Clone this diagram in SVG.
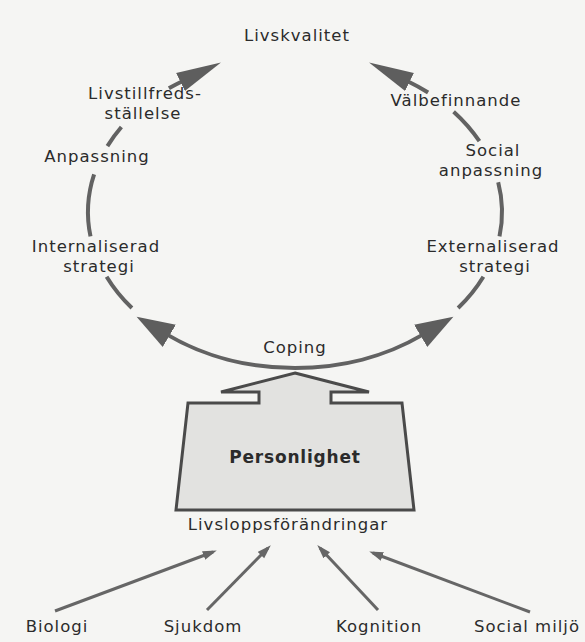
<svg xmlns="http://www.w3.org/2000/svg" width="585" height="642" viewBox="0 0 585 642">
  <style>
    .lbl { font-family: "DejaVu Sans", "Liberation Sans", sans-serif; font-size: 16.5px; letter-spacing: 1px; fill: #2b2b2b; text-anchor: middle; }
    .bold { font-weight: bold; font-size: 17px; letter-spacing: 0.8px; }
    .ring { fill: none; stroke: #626262; stroke-width: 4; }
    .thin { fill: none; stroke: #666; stroke-width: 3; }
    .box { fill: #e2e2e0; stroke: #4a4a4a; stroke-width: 3; stroke-linejoin: miter; }
  </style>
  <defs>
    <marker id="headTop" markerUnits="userSpaceOnUse" markerWidth="46" markerHeight="24" refX="2" refY="12" orient="auto">
      <path d="M0,2 L45,12 L0,22 Z" fill="#5e5e5e"/>
    </marker>
    <marker id="headBot" markerUnits="userSpaceOnUse" markerWidth="40" markerHeight="30" refX="2" refY="15" orient="auto">
      <path d="M0,2 L38,15 L0,28 Z" fill="#5e5e5e"/>
    </marker>
    <marker id="small" markerUnits="userSpaceOnUse" markerWidth="14" markerHeight="10" refX="10" refY="5" orient="auto">
      <path d="M0,0.5 L14,5 L0,9.5 Z" fill="#666"/>
    </marker>
  </defs>
  <rect x="0" y="0" width="585" height="642" fill="#f5f5f3"/>

  <g id="connectors">
    <path class="ring" d="M168.9,88.3 A207 156 0 0 1 182.3,81.2" marker-end="url(#headTop)"/>
    <path class="ring" d="M107.4,146.1 A207 156 0 0 1 121.4,127.0"/>
    <path class="ring" d="M90.5,236.4 A207 156 0 0 1 94.1,174.3"/>
    <path class="ring" d="M131.9,308.0 A207 156 0 0 1 106.6,276.7"/>
    <path class="ring" d="M295,368 A207 156 0 0 1 167.6,334.9" marker-end="url(#headBot)"/>
    <path class="ring" d="M295,368 A207 156 0 0 0 422.4,334.9" marker-end="url(#headBot)"/>
    <path class="ring" d="M458.1,308.0 A207 156 0 0 0 483.4,276.7"/>
    <path class="ring" d="M499.5,236.4 A207 156 0 0 0 498.2,182.2"/>
    <path class="ring" d="M479.4,141.2 A207 156 0 0 0 453.6,111.7"/>
    <path class="ring" d="M428.1,92.5 A207 156 0 0 0 407.7,81.2" marker-end="url(#headTop)"/>
    <path class="thin" d="M55,611 L213,552" marker-end="url(#small)"/>
    <path class="thin" d="M207,610 L268,548" marker-end="url(#small)"/>
    <path class="thin" d="M378,610 L320,548" marker-end="url(#small)"/>
    <path class="thin" d="M530,612 L373,553" marker-end="url(#small)"/>
  </g>

  <g id="livskvalitet"><text class="lbl" x="297" y="41">Livskvalitet</text></g>
  <g id="livstillfredsstallelse">
    <text class="lbl" x="145" y="99">Livstillfreds-</text>
    <text class="lbl" x="143" y="119">ställelse</text>
  </g>
  <g id="anpassning"><text class="lbl" x="97" y="162">Anpassning</text></g>
  <g id="valbefinnande"><text class="lbl" x="456" y="106">Välbefinnande</text></g>
  <g id="social-anpassning">
    <text class="lbl" x="493" y="156">Social</text>
    <text class="lbl" x="491" y="176">anpassning</text>
  </g>
  <g id="internaliserad">
    <text class="lbl" x="96" y="252">Internaliserad</text>
    <text class="lbl" x="99" y="272">strategi</text>
  </g>
  <g id="externaliserad">
    <text class="lbl" x="493" y="252">Externaliserad</text>
    <text class="lbl" x="495" y="272">strategi</text>
  </g>
  <g id="coping"><text class="lbl" x="295" y="353">Coping</text></g>
  <g id="personlighet">
    <polygon class="box" points="295,373 369,392 331,392 331,403 402,403 414,510 176,510 188,403 259,403 259,392 221,392"/>
    <text class="lbl bold" x="295" y="463">Personlighet</text>
  </g>
  <g id="livsloppsforandringar"><text class="lbl" x="288" y="530">Livsloppsförändringar</text></g>
  <g id="biologi"><text class="lbl" x="57" y="632">Biologi</text></g>
  <g id="sjukdom"><text class="lbl" x="203" y="632">Sjukdom</text></g>
  <g id="kognition"><text class="lbl" x="379" y="632">Kognition</text></g>
  <g id="social-miljo"><text class="lbl" x="527" y="632">Social miljö</text></g>
</svg>
